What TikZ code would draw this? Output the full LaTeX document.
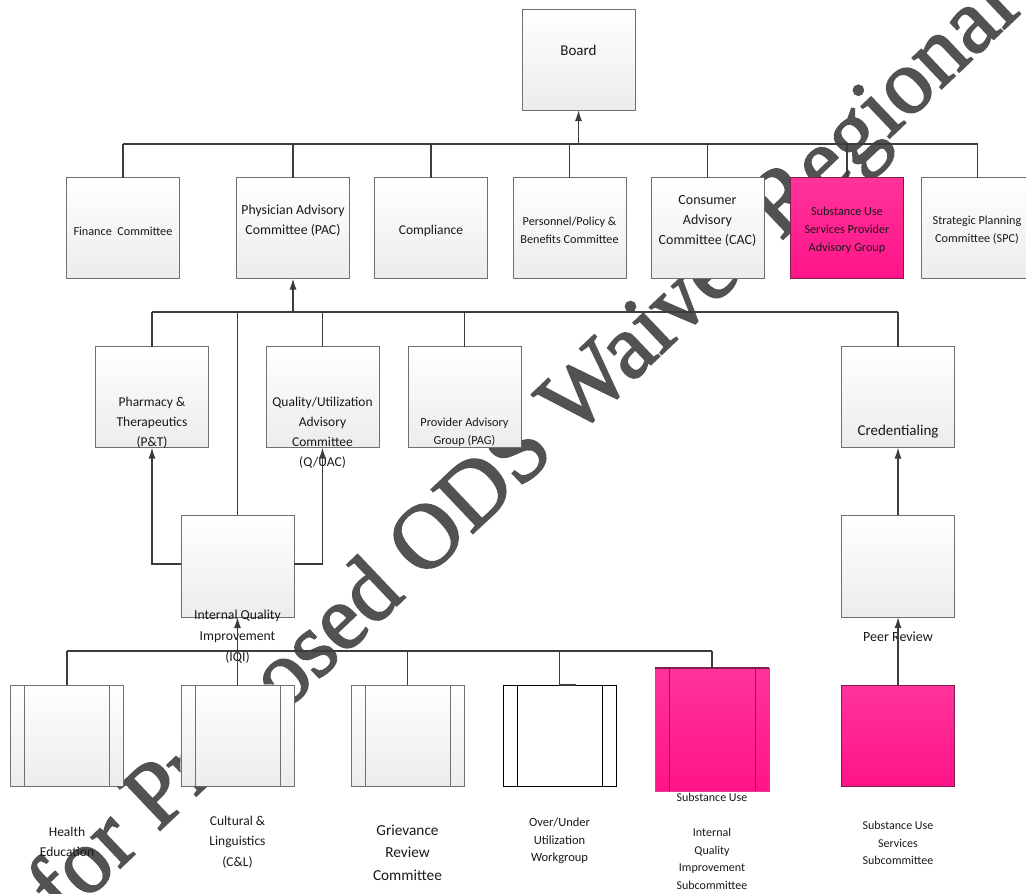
\documentclass[tikz,border=0pt]{standalone}
\usepackage{fontspec}
\setmainfont{Carlito}
\newfontfamily\wmfont[FakeBold=2]{Liberation Serif}
\usetikzlibrary{arrows.meta}

\definecolor{linec}{RGB}{60,60,60}
\definecolor{boxborder}{RGB}{112,112,112}
\definecolor{boxbot}{RGB}{236,236,236}
\definecolor{pinktop}{RGB}{255,51,153}
\definecolor{pinkbot}{RGB}{255,20,136}
\definecolor{pinkborder}{RGB}{125,30,78}
\definecolor{pinkedge}{RGB}{225,60,140}
\definecolor{wmgray}{RGB}{82,82,82}
\definecolor{txt}{RGB}{25,25,25}

\tikzset{
  orgbox/.style={draw=boxborder, line width=1pt, top color=white, bottom color=boxbot,
    minimum width=113pt, minimum height=101pt, inner sep=0pt, outer sep=0pt},
  pinkbox/.style={orgbox, draw=pinkborder, top color=pinktop, bottom color=pinkbot},
  whitebox/.style={orgbox, draw=black, fill=white, top color=white, bottom color=white},
  lbl/.style={align=center, inner sep=0pt, text=txt},
  big/.style={lbl, font=\fontsize{13.5}{20}\selectfont},
  small/.style={lbl, font=\fontsize{12.2}{18}\selectfont},
  conn/.style={draw=linec, line width=1.4pt},
  thickconn/.style={draw=linec, line width=1.9pt},
  arr/.style={conn, -{Latex[length=11pt,width=7pt]}},
}

\begin{document}
\begin{tikzpicture}[x=1pt,y=-1pt]
\useasboundingbox (0,0) rectangle (1026,894);
\begin{scope}
\clip (0,0) rectangle (1026,894);

% top level
\node[orgbox] (board) at (578.5,59.5) {};
% row 1
\node[orgbox] (fin)   at (123,228) {};
\node[orgbox] (pac)   at (293,228) {};
\node[orgbox] (comp)  at (431,228) {};
\node[orgbox] (pers)  at (569.5,228) {};
\node[orgbox] (cac)   at (707.5,228) {};
\node[pinkbox] (supag) at (847,228) {};
\node[orgbox] (spc)   at (977.5,228) {};
% row 2
\node[orgbox] (pt)    at (152,397) {};
\node[orgbox] (quac)  at (322.5,397) {};
\node[orgbox] (pag)   at (464.5,397) {};
\node[orgbox] (cred)  at (898,397) {};
% middle
\node[orgbox, minimum height=102pt] (iqi)  at (237.5,566) {};
\node[orgbox, minimum height=102pt] (peer) at (898,566) {};
% row 3
\node[orgbox] (he) at (67,735.5) {};
\node[orgbox] (cl) at (237.5,735.5) {};
\node[orgbox] (gr) at (407.5,735.5) {};
\node[whitebox] (ou) at (559.5,735.5) {};
\node[pinkbox, draw=pinkedge, minimum width=114pt, minimum height=123pt] (suiqi) at (712,729.5) {};
\node[pinkbox] (sus) at (898,735.5) {};
\foreach \n in {he,cl,gr}{
  \draw[boxborder, line width=1pt] ([xshift=14pt]\n.north west) -- ([xshift=14pt]\n.south west);
  \draw[boxborder, line width=1pt] ([xshift=-14pt]\n.north east) -- ([xshift=-14pt]\n.south east);
}
\draw[black, line width=1pt] ([xshift=14pt]ou.north west) -- ([xshift=14pt]ou.south west);
\draw[black, line width=1pt] ([xshift=-14pt]ou.north east) -- ([xshift=-14pt]ou.south east);
\draw[pinkborder, line width=1pt] ([xshift=14pt]suiqi.north west) -- ([xshift=14pt]suiqi.south west);
\draw[pinkborder, line width=1pt] ([xshift=-14pt]suiqi.north east) -- ([xshift=-14pt]suiqi.south east);
\draw[pinkborder, line width=1.3pt] (suiqi.north west) -- (suiqi.north east);

% watermark, kept out of the boxes (it lies behind them)
\begin{scope}
\clip (0,0) -- (1026,0) -- (1026,894) -- (0,894) -- cycle
  foreach \n in {board,fin,pac,comp,pers,cac,supag,spc,pt,quac,pag,cred,iqi,peer,he,cl,gr,ou,suiqi,sus}{
    ([shift={(-0.6,-0.6)}]\n.north west) -- ([shift={(-0.6,0.6)}]\n.south west)
    -- ([shift={(0.6,0.6)}]\n.south east) -- ([shift={(0.6,-0.6)}]\n.north east) -- cycle
  };
\node[rotate=43.5, text=wmgray, inner sep=0pt, font=\wmfont\fontsize{92}{92}\selectfont] (wmark) at (527,451) {for Proposed ODS Waiver Regional};
\end{scope}

% labels
\node[lbl, font=\fontsize{15}{20}\selectfont] (lboard) at (578.5,50) {Board};
\node[small] (lfin) at (123,231) {Finance\ \ Committee};
\node[lbl, font=\fontsize{13.8}{20}\selectfont] (lpac) at (293,221) {Physician Advisory\\Committee (PAC)};
\node[big] (lcomp) at (431,231) {Compliance};
\node[small] (lpers) at (569.5,230) {Personnel/Policy \&\\Benefits Committee};
\node[lbl, font=\fontsize{14}{20}\selectfont] (lcac) at (707.5,221) {Consumer\\Advisory\\Committee (CAC)};
\node[small] (lsupag) at (847,230.5) {Substance Use\\Services Provider\\Advisory Group};
\node[small] (lspc) at (977,230) {Strategic Planning\\Committee (SPC)};

\node[big] (lpt) at (152,422.5) {Pharmacy \&\\Therapeutics\\(P\&T)};
\node[big] (lquac) at (322.5,432.5) {Quality/Utilization\\Advisory\\Committee\\(Q/UAC)};
\node[lbl, font=\fontsize{12.3}{18}\selectfont] (lpag) at (464.5,432) {Provider Advisory\\Group (PAG)};
\node[lbl, font=\fontsize{15}{20}\selectfont] (lcred) at (898,432) {Credentialing};

\node[lbl, font=\fontsize{13.7}{21}\selectfont] (liqi) at (237.5,637) {Internal Quality\\Improvement\\(IQI)};
\node[lbl, font=\fontsize{14}{20}\selectfont] (lpeer) at (898,637) {Peer Review};

\node[big] (lhe) at (67,841.5) {Health\\Education};
\node[lbl, font=\fontsize{13.5}{20.5}\selectfont] (lcl) at (237.5,842) {Cultural \&\\Linguistics\\(C\&L)};
\node[lbl, font=\fontsize{15.3}{22.5}\selectfont] (lgr) at (407.5,852.5) {Grievance\\Review\\Committee};
\node[lbl, font=\fontsize{12.5}{17.7}\selectfont] (lou) at (559.5,841) {Over/Under\\Utilization\\Workgroup};
\node[lbl, font=\fontsize{12}{17.7}\selectfont] (lsu) at (712,797) {Substance Use};
\node[lbl, font=\fontsize{12}{17.7}\selectfont] (lsuiqi) at (712,859) {Internal\\Quality\\Improvement\\Subcommittee};
\node[lbl, font=\fontsize{12}{17.7}\selectfont] (lsus) at (898,843) {Substance Use\\Services\\Subcommittee};

% connectors level 1
\coordinate (b1) at (578.5,144);
\draw[thickconn] (fin.north |- b1) -- (cac.north |- b1);
\draw[conn] (cac.north |- b1) -- (spc.north |- b1);
\foreach \n in {fin,pac,comp,pers,cac,supag,spc}{
  \draw[conn] (\n.north) -- (\n.north |- b1);
}
\draw[arr] (b1) -- (board.south);

% connectors level 2
\coordinate (b2) at (293,312);
\draw[conn] (pt.north |- b2) -- (cred.north |- b2);
\foreach \n in {pt,quac,pag,cred,iqi}{
  \draw[conn] (\n.north) -- (\n.north |- b2);
}
\draw[arr] (b2) -- (pac.south);
\draw[arr] ([yshift=2pt]iqi.west) -| (pt.south);
\draw[arr] ([yshift=2pt]iqi.east) -| (quac.south);

% connectors level 3
\coordinate (b3) at (237.5,651);
\draw[thickconn] (he.north |- b3) -- (ou.north |- b3);
\draw[conn] (ou.north |- b3) -- (suiqi.north |- b3);
\foreach \n in {he,gr,suiqi}{
  \draw[conn] (\n.north) -- (\n.north |- b3);
}
\draw[conn] (ou.north |- b3) -- (ou.north) -- ([xshift=16pt]ou.north);
\draw[arr] (cl.north) -- (iqi.south);
\draw[arr] (peer.north) -- (cred.south);
\draw[arr] (sus.north) -- (peer.south);
\end{scope}
\end{tikzpicture}
\end{document}
